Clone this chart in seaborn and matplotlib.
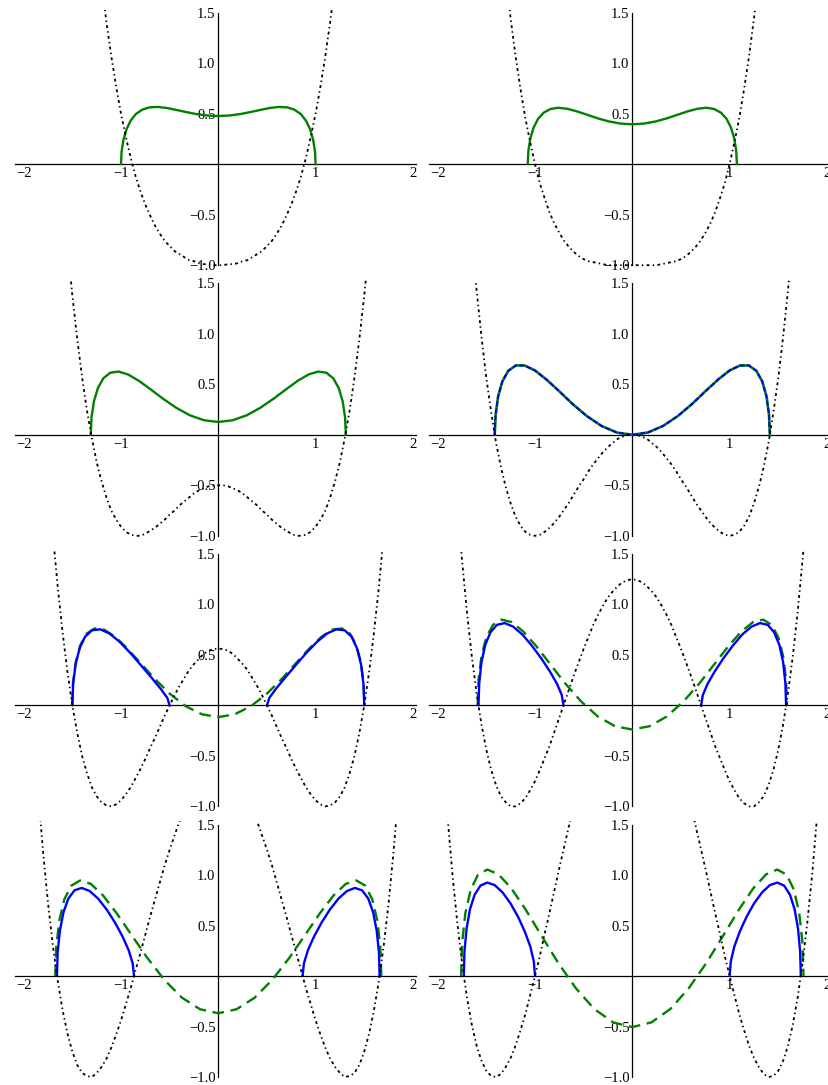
import numpy as np
import matplotlib
matplotlib.use("Agg")
import matplotlib.pyplot as plt
from matplotlib.ticker import FixedLocator
import seaborn as sns

# Values. All curves are symmetric about x = 0,
# so only the x >= 0 half is kept and mirrored when drawn.

# black dot-dashed potential, sampled at pot_x
pot_x = [0.0, 0.05, 0.1, 0.15, 0.2, 0.25, 0.3, 0.35, 0.4, 0.45,
         0.5, 0.55, 0.6, 0.65, 0.7, 0.75, 0.8, 0.85, 0.9, 0.95,
         1.0, 1.05, 1.1, 1.15, 1.2, 1.25, 1.3, 1.35, 1.4, 1.45,
         1.5, 1.55, 1.6, 1.65, 1.7, 1.75, 1.8, 1.85, 1.9, 1.95]
pot1 = [-1.00, -1.00, -0.99, -0.99, -0.98, -0.96, -0.95, -0.92, -0.89, -0.86,
        -0.81, -0.76, -0.69, -0.61, -0.51, -0.40, -0.27, -0.12, 0.06, 0.27,
        0.50, 0.77, 1.07, 1.41, 1.79, 2.22, 2.70]
pot2 = [-1.00, -1.00, -1.00, -1.00, -1.00, -1.00, -0.99, -0.98, -0.97, -0.96,
        -0.94, -0.91, -0.87, -0.82, -0.76, -0.68, -0.59, -0.48, -0.34, -0.19,
        0.00, 0.22, 0.46, 0.75, 1.07, 1.44, 1.86, 2.32, 2.84, 3.42, 4.06, 4.77]
pot3 = [-0.50, -0.50, -0.51, -0.53, -0.55, -0.58, -0.62, -0.66, -0.70, -0.75,
        -0.79, -0.84, -0.88, -0.92, -0.95, -0.98, -1.00, -1.00, -0.99, -0.96,
        -0.91, -0.84, -0.75, -0.62, -0.46, -0.27, -0.03, 0.24, 0.57, 0.95,
        1.38, 1.87, 2.43, 3.06]
pot4 = [0.00, 0.00, -0.02, -0.04, -0.08, -0.12, -0.17, -0.23, -0.29, -0.36,
        -0.44, -0.51, -0.59, -0.67, -0.74, -0.81, -0.87, -0.92, -0.96, -0.99,
        -1.00, -0.99, -0.96, -0.90, -0.81, -0.68, -0.52, -0.32, -0.08, 0.22,
        0.56, 0.97, 1.43, 1.97, 2.57]
pot5 = [0.56, 0.56, 0.54, 0.51, 0.46, 0.41, 0.35, 0.27, 0.19, 0.10,
        0.00, -0.10, -0.21, -0.32, -0.42, -0.53, -0.63, -0.72, -0.81, -0.88,
        -0.94, -0.98, -1.00, -0.99, -0.96, -0.90, -0.81, -0.67, -0.50, -0.27,
        0.00, 0.33, 0.72, 1.17, 1.69, 2.29, 2.96]
pot6 = [1.25, 1.24, 1.22, 1.18, 1.13, 1.07, 0.99, 0.90, 0.80, 0.68,
        0.56, 0.43, 0.30, 0.16, 0.02, -0.12, -0.26, -0.40, -0.52, -0.64,
        -0.75, -0.84, -0.92, -0.97, -1.00, -1.00, -0.96, -0.90, -0.79, -0.64,
        -0.44, -0.19, 0.12, 0.49, 0.93, 1.44, 2.03, 2.70, 3.45, 4.30]
pot7 = [2.06, 2.05, 2.03, 1.98, 1.92, 1.85, 1.76, 1.65, 1.53, 1.39,
        1.25, 1.10, 0.93, 0.76, 0.59, 0.41, 0.23, 0.06, -0.12, -0.28,
        -0.44, -0.58, -0.71, -0.82, -0.90, -0.96, -1.00, -0.99, -0.96, -0.88,
        -0.75, -0.57, -0.34, -0.05, 0.30, 0.72, 1.22, 1.80, 2.46, 3.21]
pot8 = [3.00, 2.99, 2.96, 2.91, 2.84, 2.75, 2.65, 2.53, 2.39, 2.23,
        2.06, 1.88, 1.69, 1.49, 1.28, 1.07, 0.85, 0.63, 0.42, 0.20,
        0.00, -0.19, -0.38, -0.54, -0.69, -0.81, -0.90, -0.97, -1.00, -0.99,
        -0.94, -0.84, -0.69, -0.48, -0.21, 0.13, 0.54, 1.02, 1.59, 2.25]

# green one-cut density
dens1_x = [0.0, 0.112, 0.223, 0.330, 0.434, 0.532, 0.623, 0.707, 0.782, 0.847, 0.901, 0.944, 0.975, 0.994, 1.0]
dens1_y = [0.477, 0.482, 0.496, 0.516, 0.538, 0.557, 0.567, 0.563, 0.540, 0.497, 0.431, 0.345, 0.241, 0.124, 0.0]
dens2_x = [0.0, 0.120, 0.239, 0.355, 0.466, 0.572, 0.670, 0.760, 0.840, 0.910, 0.968, 1.014, 1.048, 1.068, 1.075]
dens2_y = [0.395, 0.402, 0.423, 0.454, 0.490, 0.524, 0.549, 0.559, 0.547, 0.511, 0.450, 0.363, 0.255, 0.132, 0.0]
dens3_x = [0.0, 0.147, 0.292, 0.433, 0.569, 0.697, 0.817, 0.927, 1.025, 1.110, 1.181, 1.237, 1.278, 1.303, 1.311]
dens3_y = [0.127, 0.144, 0.193, 0.268, 0.358, 0.451, 0.535, 0.597, 0.626, 0.615, 0.560, 0.464, 0.332, 0.173, 0.0]
dens4_x = [0.0, 0.158, 0.315, 0.467, 0.614, 0.752, 0.882, 1.000, 1.106, 1.197, 1.274, 1.335, 1.379, 1.405, 1.414]
dens4_y = [0.0, 0.022, 0.087, 0.185, 0.305, 0.432, 0.547, 0.637, 0.686, 0.687, 0.634, 0.530, 0.381, 0.199, 0.0]
dens5_x = [0.0, 0.168, 0.334, 0.496, 0.652, 0.799, 0.937, 1.062, 1.175, 1.272, 1.354, 1.418, 1.465, 1.493, 1.502]
dens5_y = [-0.116, -0.088, -0.009, 0.113, 0.262, 0.419, 0.565, 0.681, 0.751, 0.762, 0.710, 0.597, 0.431, 0.226, 0.0]
dens6_x = [0.0, 0.178, 0.354, 0.525, 0.690, 0.846, 0.991, 1.124, 1.243, 1.346, 1.432, 1.501, 1.550, 1.580, 1.590]
dens6_y = [-0.239, -0.206, -0.110, 0.038, 0.218, 0.411, 0.591, 0.735, 0.826, 0.849, 0.797, 0.674, 0.488, 0.256, 0.0]
dens7_x = [0.0, 0.188, 0.373, 0.553, 0.727, 0.892, 1.045, 1.185, 1.310, 1.419, 1.510, 1.582, 1.634, 1.665, 1.676]
dens7_y = [-0.369, -0.329, -0.215, -0.040, 0.176, 0.406, 0.622, 0.798, 0.912, 0.946, 0.895, 0.760, 0.551, 0.290, 0.0]
dens8_x = [0.0, 0.197, 0.392, 0.581, 0.764, 0.936, 1.097, 1.244, 1.376, 1.490, 1.586, 1.661, 1.716, 1.749, 1.760]
dens8_y = [-0.506, -0.459, -0.326, -0.120, 0.133, 0.403, 0.659, 0.869, 1.007, 1.054, 1.003, 0.854, 0.621, 0.327, 0.0]

# blue two-cut density (right lobe); in panel 4 it is the same curve as dens4
cut5_x = [0.500, 0.524, 0.591, 0.684, 0.792, 0.903, 1.014, 1.118, 1.213, 1.298, 1.369, 1.425, 1.467, 1.492, 1.500]
cut5_y = [0.0, 0.074, 0.163, 0.272, 0.394, 0.518, 0.629, 0.712, 0.753, 0.744, 0.681, 0.566, 0.405, 0.211, 0.0]
cut6_x = [0.707, 0.725, 0.774, 0.847, 0.936, 1.033, 1.130, 1.225, 1.312, 1.391, 1.457, 1.511, 1.550, 1.573, 1.581]
cut6_y = [0.0, 0.103, 0.214, 0.336, 0.466, 0.592, 0.702, 0.780, 0.815, 0.798, 0.725, 0.600, 0.428, 0.223, 0.0]
cut7_x = [0.866, 0.880, 0.921, 0.984, 1.061, 1.147, 1.236, 1.323, 1.404, 1.478, 1.541, 1.591, 1.628, 1.651, 1.658]
cut7_y = [0.0, 0.125, 0.255, 0.391, 0.528, 0.658, 0.767, 0.842, 0.872, 0.848, 0.767, 0.632, 0.450, 0.234, 0.0]
cut8_x = [1.000, 1.012, 1.048, 1.104, 1.173, 1.251, 1.333, 1.414, 1.491, 1.560, 1.620, 1.668, 1.703, 1.725, 1.732]
cut8_y = [0.0, 0.143, 0.290, 0.438, 0.584, 0.718, 0.827, 0.900, 0.925, 0.895, 0.806, 0.662, 0.470, 0.244, 0.0]

x_ticks = [-2, -1, 1, 2]
x_tick_labels = ["\u22122", "\u22121", "1", "2"]
y_ticks = [-1, -0.5, 0.5, 1, 1.5]
y_tick_labels = ["\u22121.0", "\u22120.5", "0.5", "1.0", "1.5"]

pots = [pot1, pot2, pot3, pot4, pot5, pot6, pot7, pot8]
dens = [(dens1_x, dens1_y), (dens2_x, dens2_y), (dens3_x, dens3_y), (dens4_x, dens4_y),
        (dens5_x, dens5_y), (dens6_x, dens6_y), (dens7_x, dens7_y), (dens8_x, dens8_y)]
cuts = [None, None, None, None, (cut5_x, cut5_y), (cut6_x, cut6_y), (cut7_x, cut7_y), (cut8_x, cut8_y)]


def mirror(x, y):
    x = np.asarray(x)
    y = np.asarray(y)
    return np.concatenate([-x[::-1], x[1:]]), np.concatenate([y[::-1], y[1:]])


sns.set_style("white")
plt.rcParams['font.family'] = ['Liberation Serif', 'DejaVu Serif']

GREEN = "#008000"
BLUE = "#0000FF"

fig = plt.figure(figsize=(8.29, 10.85), dpi=100)
W, H = 829.0, 1085.0
xlo, xhi = -2.09, 2.03
ylo, yhi = -1.03, 1.53
sx, sy = 97.3, 101.0  # pixels per unit

for i in range(8):
    row, col = divmod(i, 2)
    ox = 218.3 + 414 * col
    top = 12.7 + 270.6 * row
    left, right = ox + xlo * sx, ox + xhi * sx
    ytop, ybot = top - (yhi - 1.5) * sy, top + (1.5 - ylo) * sy
    ax = fig.add_axes([left / W, 1 - ybot / H, (right - left) / W, (ybot - ytop) / H])
    ax.patch.set_alpha(0)

    gx, gy = mirror(*dens[i])
    if i < 3:
        sns.lineplot(x=gx, y=gy, ax=ax, color=GREEN, linewidth=1.7, sort=False, estimator=None, zorder=2)
    elif i == 3:
        sns.lineplot(x=gx, y=gy, ax=ax, color=GREEN, linewidth=1.9, sort=False, estimator=None, zorder=2)
        sns.lineplot(x=gx, y=gy, ax=ax, color=BLUE, linewidth=1.4, linestyle=(0, (2.5, 1.2)),
                     sort=False, estimator=None, zorder=2.2)
    else:
        sns.lineplot(x=gx, y=gy, ax=ax, color=GREEN, linewidth=1.7, linestyle=(0, (5, 2.8)),
                     sort=False, estimator=None, zorder=2)
        bx, by = np.asarray(cuts[i][0]), np.asarray(cuts[i][1])
        sns.lineplot(x=bx, y=by, ax=ax, color=BLUE, linewidth=1.7, sort=False, estimator=None, zorder=2.2)
        sns.lineplot(x=-bx, y=by, ax=ax, color=BLUE, linewidth=1.7, sort=False, estimator=None, zorder=2.2)

    px, py = mirror(pot_x[:len(pots[i])], pots[i])
    sns.lineplot(x=px, y=py, ax=ax, color="black", linewidth=1.3, linestyle=(0, (0.8, 1.8, 1.6, 1.8)),
                 sort=False, estimator=None, zorder=2.4)

    ax.set_xlim(xlo, xhi)
    ax.set_ylim(ylo, yhi)
    for s in ["top", "right"]:
        ax.spines[s].set_visible(False)
    ax.spines["left"].set_position(("data", 0))
    ax.spines["bottom"].set_position(("data", 0))
    ax.spines["left"].set_bounds(-1, 1.5)
    for s in ["left", "bottom"]:
        ax.spines[s].set_linewidth(0.9)
        ax.spines[s].set_color("black")
        ax.spines[s].set_zorder(1)
    ax.set_axisbelow(True)
    ax.set_xticks(x_ticks, x_tick_labels)
    ax.set_yticks(y_ticks, y_tick_labels)
    ax.xaxis.set_minor_locator(FixedLocator([v / 5 for v in range(-10, 11) if v % 5]))
    ax.yaxis.set_minor_locator(FixedLocator([v / 10 for v in range(-10, 16) if v % 5]))
    ax.tick_params(which="both", direction="in", colors="black", labelsize=10.5, width=0.7)
    ax.tick_params(which="major", length=3.5, pad=2)
    ax.tick_params(which="minor", length=2)

fig.savefig("out.png", dpi=100)
